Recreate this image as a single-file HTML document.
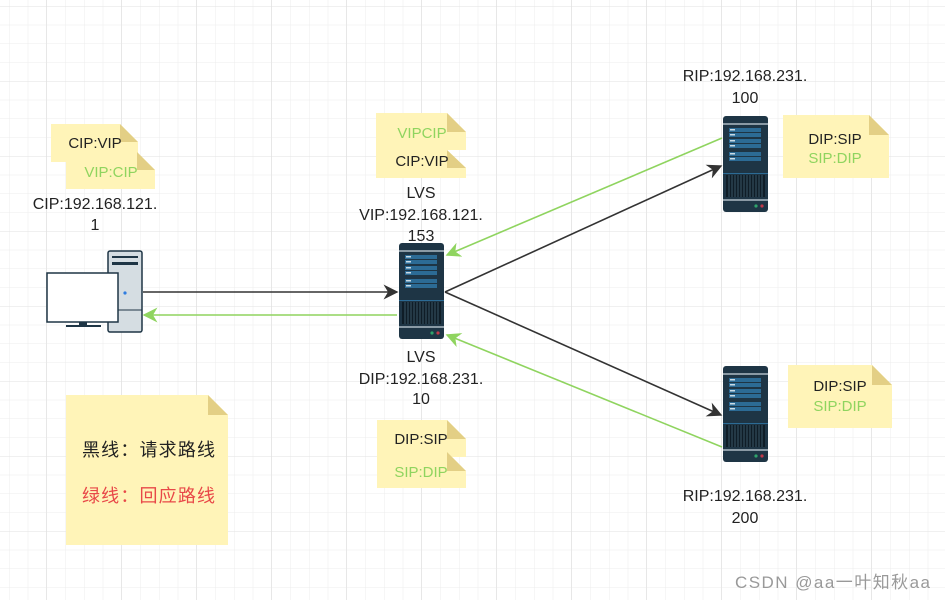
<!DOCTYPE html>
<html><head><meta charset="utf-8"><style>
body{margin:0;width:945px;height:600px;overflow:hidden;background:#fff}
svg{display:block}
text{font-family:"Liberation Sans","Noto Sans CJK SC",sans-serif}
</style></head><body>
<svg width="945" height="600" viewBox="0 0 945 600" xmlns="http://www.w3.org/2000/svg">
<defs>
<pattern id="g" x="9" y="6" width="18.75" height="18.75" patternUnits="userSpaceOnUse">
<path d="M0 0H18.75M0 0V18.75" stroke="#ececec" stroke-width="1" fill="none"/>
</pattern>
<pattern id="G" x="46" y="6" width="75" height="75" patternUnits="userSpaceOnUse">
<path d="M0 0H75M0 0V75" stroke="#e2e2e2" stroke-width="1" fill="none"/>
</pattern>
<g id="srv">
<rect x="0" y="0" width="45" height="96" rx="3" fill="#1e3545"/>
<rect x="0" y="7" width="45" height="2" fill="#8a9aa5"/>
<g fill="#2c6b95"><rect x="6" y="12" width="32" height="4"/><rect x="6" y="17" width="32" height="4"/><rect x="6" y="23" width="32" height="4"/><rect x="6" y="28" width="32" height="4"/><rect x="6" y="36" width="32" height="4"/><rect x="6" y="41" width="32" height="4"/></g>
<g fill="#c9dbe6"><rect x="7" y="13" width="5" height="1.5"/><rect x="7" y="18" width="5" height="1.5"/><rect x="7" y="24" width="5" height="1.5"/><rect x="7" y="29" width="5" height="1.5"/><rect x="7" y="37" width="5" height="1.5"/><rect x="7" y="42" width="5" height="1.5"/></g>
<rect x="0" y="57" width="45" height="1" fill="#2c6b95"/>
<rect x="3" y="59" width="39" height="22" fill="#0f1d27"/>
<g stroke="#3a5566" stroke-width="1"><path d="M6 59V81M9 59V81M12 59V81M15 59V81M18 59V81M21 59V81M24 59V81M27 59V81M30 59V81M33 59V81M36 59V81M39 59V81"/></g>
<rect x="0" y="83" width="45" height="2" fill="#8a9aa5"/>
<circle cx="33" cy="90" r="1.6" fill="#2ea36b"/><circle cx="39" cy="90" r="1.6" fill="#c0394a"/>
</g>
<marker id="ab" viewBox="0 0 10 10" refX="9" refY="5" markerWidth="15" markerHeight="15" markerUnits="userSpaceOnUse" orient="auto"><path d="M0 0L10 5L0 10L3 5Z" fill="#333"/></marker>
<marker id="ag" viewBox="0 0 10 10" refX="9" refY="5" markerWidth="15" markerHeight="15" markerUnits="userSpaceOnUse" orient="auto"><path d="M0 0L10 5L0 10L3 5Z" fill="#8fd45f"/></marker>
</defs>
<rect width="945" height="600" fill="url(#g)"/>
<rect width="945" height="600" fill="url(#G)"/>

<g>
<path d="M51 124H120L138 142V162H51Z" fill="#fff4b8"/><path d="M120 124L138 142H120Z" fill="#e3cf85"/>
<text x="95" y="148" font-size="15" text-anchor="middle" fill="#222">CIP:VIP</text>
<path d="M66 152H137L155 170V189H66Z" fill="#fff4b8"/><path d="M137 152L155 170H137Z" fill="#e3cf85"/>
<text x="111" y="177" font-size="15" text-anchor="middle" fill="#8fd45f">VIP:CIP</text>

<path d="M376 113H447L466 132V150H376Z" fill="#fff4b8"/><path d="M447 113L466 132H447Z" fill="#e3cf85"/>
<text x="422" y="138" font-size="15" text-anchor="middle" fill="#8fd45f">VIPCIP</text>
<path d="M376 150H447L466 168V178H376Z" fill="#fff4b8"/><path d="M447 150L466 168H447Z" fill="#e3cf85"/>
<text x="422" y="166" font-size="15" text-anchor="middle" fill="#222">CIP:VIP</text>

<path d="M377 420H447L466 439V457H377Z" fill="#fff4b8"/><path d="M447 420L466 439H447Z" fill="#e3cf85"/>
<text x="421" y="444" font-size="15" text-anchor="middle" fill="#222">DIP:SIP</text>
<path d="M377 452H447L466 471V488H377Z" fill="#fff4b8"/><path d="M447 452L466 471H447Z" fill="#e3cf85"/>
<text x="421" y="477" font-size="15" text-anchor="middle" fill="#8fd45f">SIP:DIP</text>

<path d="M783 115H869L889 135V178H783Z" fill="#fff4b8"/><path d="M869 115L889 135H869Z" fill="#e3cf85"/>
<text x="835" y="144" font-size="15" text-anchor="middle" fill="#222">DIP:SIP</text>
<text x="835" y="163" font-size="15" text-anchor="middle" fill="#8fd45f">SIP:DIP</text>

<path d="M788 365H872L892 385V428H788Z" fill="#fff4b8"/><path d="M872 365L892 385H872Z" fill="#e3cf85"/>
<text x="840" y="391" font-size="15" text-anchor="middle" fill="#222">DIP:SIP</text>
<text x="840" y="411" font-size="15" text-anchor="middle" fill="#8fd45f">SIP:DIP</text>

<path d="M66 395H208L228 415V545H66Z" fill="#fff4b8"/><path d="M208 395L228 415H208Z" fill="#e3cf85"/>
<text x="82" y="456" font-size="18" fill="#222" textLength="133">黑线：请求路线</text>
<text x="82" y="502" font-size="18" fill="#e84848" textLength="133">绿线：回应路线</text>
</g>

<rect x="108" y="251" width="34" height="81" rx="2" fill="#d5dde2" stroke="#1e3545" stroke-width="1.5"/>
<rect x="112" y="256" width="26" height="2" fill="#1e3545"/>
<rect x="112" y="262" width="26" height="3" fill="#1e3545"/>
<circle cx="125" cy="293" r="1.6" fill="#2f7de0"/>
<path d="M108 310H142" stroke="#1e3545"/>
<rect x="47" y="273" width="71" height="49" fill="#fff" stroke="#1e3545" stroke-width="1.5"/>
<rect x="79" y="322" width="8" height="4" fill="#1e3545"/>
<rect x="66" y="325" width="35" height="2" fill="#1e3545"/>

<use href="#srv" x="399" y="243"/>
<use href="#srv" x="723" y="116"/>
<use href="#srv" x="723" y="366"/>

<g stroke-width="1.6" fill="none">
<path d="M143 292H397" stroke="#333" marker-end="url(#ab)"/>
<path d="M397 315H144" stroke="#8fd45f" marker-end="url(#ag)"/>
<path d="M445 292L721 166" stroke="#333" marker-end="url(#ab)"/>
<path d="M445 292L721 415" stroke="#333" marker-end="url(#ab)"/>
<path d="M722 138L447 255" stroke="#8fd45f" marker-end="url(#ag)"/>
<path d="M722 447L447 335" stroke="#8fd45f" marker-end="url(#ag)"/>
</g>

<g font-size="16" fill="#222" text-anchor="middle">
<text x="95" y="209">CIP:192.168.121.</text><text x="95" y="230">1</text>
<text x="421" y="198">LVS</text><text x="421" y="220">VIP:192.168.121.</text><text x="421" y="241">153</text>
<text x="421" y="362">LVS</text><text x="421" y="384">DIP:192.168.231.</text><text x="421" y="404">10</text>
<text x="745" y="81">RIP:192.168.231.</text><text x="745" y="103">100</text>
<text x="745" y="501">RIP:192.168.231.</text><text x="745" y="523">200</text>
</g>
<text x="735" y="588" font-size="17" fill="#999" textLength="195">CSDN @aa一叶知秋aa</text>
</svg>
</body></html>
